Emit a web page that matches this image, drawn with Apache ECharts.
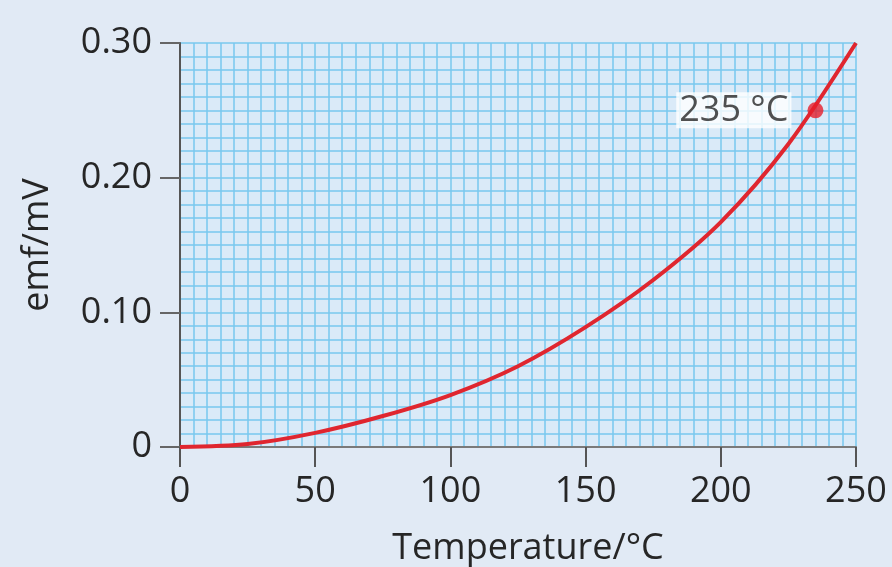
<!DOCTYPE html>
<html>
<head>
<meta charset="utf-8">
<script src="https://cdn.jsdelivr.net/npm/echarts@6/dist/echarts.min.js"></script>
<style>
html,body{margin:0;padding:0;background:#e1eaf5;}
#c{width:892px;height:567px;}
</style>
</head>
<body>
<div id="c"></div>
<script>
// Data
const temperatures = [0, 25, 50, 75, 100, 125, 150, 175, 200, 225, 250];
const emfValues = [0, 0.0022, 0.0105, 0.023, 0.0386, 0.060, 0.089, 0.124, 0.167, 0.225, 0.300];
const markedPoint = [235, 0.25];
const markedLabel = '235 °C';
const xTickValues = [0, 50, 100, 150, 200, 250];
const yTickLabels = ['0', '0.10', '0.20', '0.30'];
const xName = 'Temperature/°C';
const yName = 'emf/mV';

const FONT = '"Open Sans", "Noto Sans", sans-serif';
const TEXT = '#262626';
const GRIDLINE = { color: '#78c8ee', width: 1.5 };

const chart = echarts.init(document.getElementById('c'), null, { renderer: 'canvas' });
chart.setOption({
  backgroundColor: '#e1eaf5',
  animation: false,
  grid: { left: 180, right: 36, top: 43, bottom: 120, show: true, backgroundColor: '#daeaf8', borderWidth: 0,
          containLabel: false, outerBoundsMode: 'none' },
  xAxis: {
    type: 'value', min: 0, max: 250, interval: 50,
    name: xName, nameLocation: 'middle', nameGap: 84,
    nameTextStyle: { fontFamily: FONT, fontSize: 36, color: TEXT, padding: [0, 0, 0, 20] },
    axisLine: { show: true, onZero: false, lineStyle: { color: '#7a7a7a', width: 2 } },
    axisTick: { show: true, length: 20, lineStyle: { color: '#555', width: 2 } },
    axisLabel: { fontFamily: FONT, fontSize: 36, color: TEXT, margin: 27,
      formatter: v => xTickValues.includes(v) ? String(v) : '' },
    splitLine: { show: true, lineStyle: GRIDLINE },
    minorTick: { show: false, splitNumber: 10 },
    minorSplitLine: { show: true, lineStyle: GRIDLINE }
  },
  yAxis: {
    type: 'value', min: 0, max: 0.3, interval: 0.1,
    name: yName, nameLocation: 'middle', nameGap: 124, nameRotate: 90,
    nameTextStyle: { fontFamily: FONT, fontSize: 36, color: TEXT },
    axisLine: { show: true, onZero: false, lineStyle: { color: '#555', width: 2 } },
    axisTick: { show: true, length: 20, lineStyle: { color: '#666', width: 2 } },
    axisLabel: { fontFamily: FONT, fontSize: 36, color: TEXT, margin: 28,
      formatter: v => yTickLabels[Math.round(v * 10)] },
    splitLine: { show: true, lineStyle: GRIDLINE },
    minorTick: { show: false, splitNumber: 10 },
    minorSplitLine: { show: true, lineStyle: GRIDLINE }
  },
  series: [
    {
      type: 'line',
      data: temperatures.map((t, i) => [t, emfValues[i]]),
      smooth: 0.3,
      showSymbol: false,
      lineStyle: { color: '#e0262f', width: 4 },
      z: 3
    },
    {
      type: 'scatter',
      data: [markedPoint],
      symbolSize: 16,
      itemStyle: { color: '#e61e2b' },
      label: {
        show: true, position: 'left', distance: 16,
        formatter: markedLabel,
        fontFamily: FONT, fontSize: 36, color: TEXT,
        backgroundColor: '#ffffff', padding: [0, 3, 0, 3], lineHeight: 36
      },
      z: 4
    }
  ]
});
</script>
</body>
</html>
